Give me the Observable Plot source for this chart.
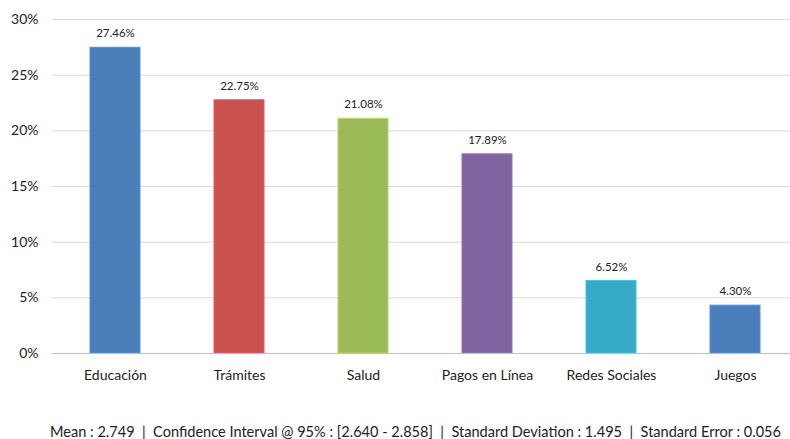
<!DOCTYPE html>
<html>
<head>
<meta charset="utf-8">
<script src="https://cdn.jsdelivr.net/npm/d3@7"></script>
<script src="https://cdn.jsdelivr.net/npm/@observablehq/plot@0.6"></script>
<style>
  body { margin: 0; background: #fff; font-family: Lato, "Open Sans", sans-serif; }
  #stats { text-align: left; padding-left: 50px; font-size: 14.55px; color: #222; margin-top: 28px; white-space: pre; }
</style>
</head>
<body>
<div id="chart"></div>
<div id="stats"></div>
<script>
const categories = ["Educación", "Trámites", "Salud", "Pagos en Línea", "Redes Sociales", "Juegos"];
const values = [27.46, 22.75, 21.08, 17.89, 6.52, 4.30];
const colors = ["#4A7EBB", "#C9514E", "#9BBB59", "#8064A2", "#36A9C4", "#4A7EBB"];
const yTicks = [0, 5, 10, 15, 20, 25, 30];
const statsText = "Mean : 2.749  |  Confidence Interval @ 95% : [2.640 - 2.858]  |  Standard Deviation : 1.495  |  Standard Error : 0.056";

const data = categories.map((c, i) => ({category: c, value: values[i], color: colors[i]}));

const chart = Plot.plot({
  width: 790,
  height: 395,
  marginTop: 19,
  marginBottom: 42,
  marginLeft: 52,
  marginRight: 0,
  style: {fontFamily: "Lato, 'Open Sans', sans-serif", color: "#222"},
  x: {domain: categories, range: [52, 798], paddingInner: 0.6, paddingOuter: 0.3, label: null},
  y: {domain: [0, 30], label: null},
  marks: [
    Plot.ruleY(yTicks.filter(d => d > 0), {stroke: "#D9D9D9", strokeWidth: 1}),
    Plot.axisY({ticks: yTicks, tickFormat: d => d + "%", tickSize: 0, tickPadding: 14, fontSize: 14, label: null}),
    Plot.axisX({tickSize: 0, tickPadding: 17, fontSize: 14, label: null}),
    Plot.barY(data, {x: "category", y: "value", fill: "color", stroke: d => d3.color(d.color).brighter(0.4).formatHex(), strokeWidth: 1}),
    Plot.ruleY([0], {stroke: "#BFBFBF", strokeWidth: 1}),
    Plot.text(data, {x: "category", y: "value", text: d => d.value.toFixed(2) + "%", dy: -14, fontSize: 11.5, fill: "#222"})
  ]
});
document.getElementById("chart").appendChild(chart);
document.getElementById("stats").textContent = statsText;
</script>
</body>
</html>
